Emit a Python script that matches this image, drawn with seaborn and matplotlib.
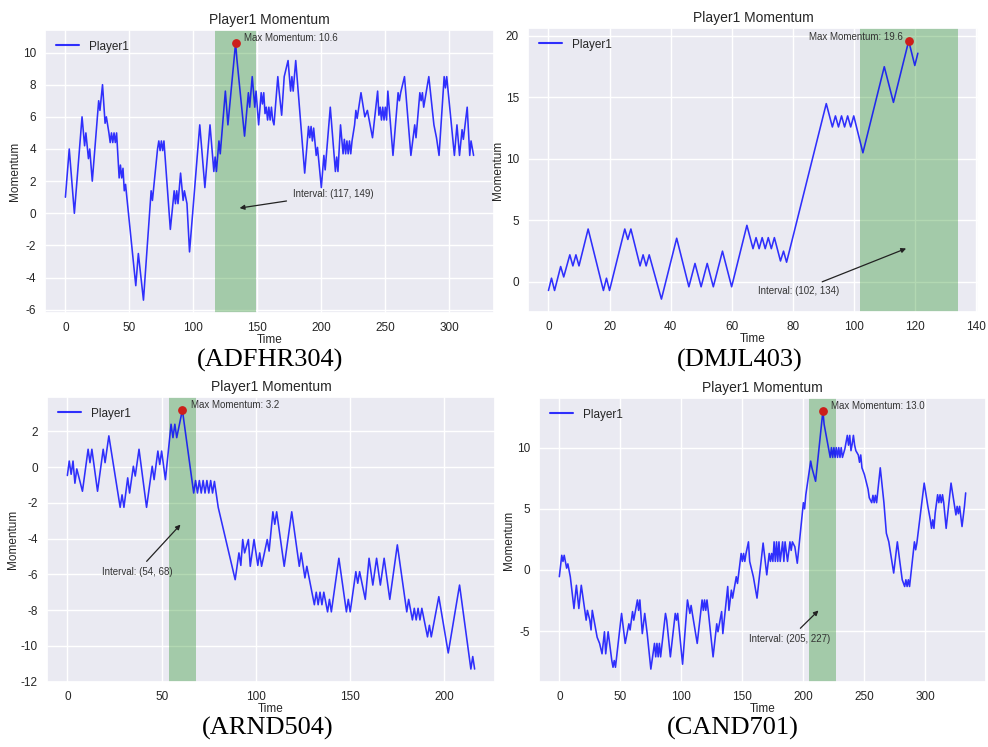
import matplotlib
matplotlib.use("Agg")
import matplotlib.pyplot as plt
import seaborn as sns

sns.set_theme(style="darkgrid")
plt.rcParams["font.family"] = ["Liberation Sans", "DejaVu Sans"]
plt.rcParams["axes.unicode_minus"] = False

# --- ADFHR304 ---
adfhr_t = [0, 3, 7, 13, 15, 16, 17, 18, 19, 21, 26, 27, 29, 31, 32, 34, 35, 36, 37, 38, 39, 40,
           42, 43, 44, 45, 46, 47, 48, 55, 57, 61, 67, 68, 72, 73, 74, 75, 76, 77, 82, 85, 86, 87,
           88, 90, 92, 93, 95, 97, 105, 109, 113, 116, 117, 118, 120, 121, 125, 127, 133, 134, 140,
           143, 144, 146, 148, 149, 151, 153, 154, 155, 156, 157, 158, 159, 160, 161, 162, 163, 166,
           167, 169, 171, 174, 176, 177, 178, 180, 187, 190, 191, 192, 193, 194, 196, 197, 200, 202,
           203, 207, 211, 212, 213, 215, 217, 218, 219, 220, 221, 222, 223, 224, 226, 227, 228, 231,
           232, 234, 236, 240, 244, 245, 246, 247, 248, 249, 250, 251, 252, 256, 260, 261, 262, 265,
           270, 273, 274, 276, 277, 278, 279, 280, 284, 288, 290, 292, 296, 297, 298, 304, 306, 308,
           310, 311, 314, 316, 317, 319]
adfhr_v = [1.0, 4.0, 0.0, 6.0, 4.2, 5.0, 4.2, 3.4, 4.0, 2.0, 7.0, 6.4, 8.0, 5.6, 6.0, 5.0, 4.4, 5.0,
           4.4, 5.0, 4.4, 5.0, 2.2, 3.0, 2.2, 2.8, 1.4, 1.8, 1.0, -4.5, -2.5, -5.4, 1.4, 0.8, 4.0, 4.5,
           3.9, 4.5, 3.9, 4.5, -1.0, 1.4, 0.6, 1.4, 0.6, 2.5, 0.8, 1.4, 0.6, -2.4, 5.5, 1.6, 5.5, 2.6,
           3.5, 2.6, 4.5, 3.7, 7.6, 5.5, 10.6, 9.6, 4.8, 7.5, 6.6, 8.5, 6.6, 7.6, 5.5, 7.5, 6.8, 7.5,
           6.2, 6.6, 5.8, 6.6, 5.8, 6.6, 5.8, 5.5, 8.5, 7.6, 6.1, 8.5, 9.5, 7.6, 8.5, 7.6, 9.5, 2.5,
           5.4, 4.7, 5.4, 4.5, 5.3, 3.6, 4.1, 1.6, 3.6, 2.7, 6.6, 2.6, 3.5, 2.6, 5.5, 3.7, 4.6, 3.7,
           4.5, 3.7, 4.5, 3.7, 4.5, 5.5, 6.4, 5.9, 7.5, 7.0, 6.0, 6.4, 4.7, 7.6, 6.1, 6.6, 5.8, 6.6,
           5.8, 6.6, 5.8, 7.6, 3.6, 7.5, 7.0, 7.5, 8.5, 3.6, 5.5, 4.7, 6.6, 7.5, 7.0, 7.5, 6.6, 8.5,
           5.5, 4.7, 3.6, 8.5, 7.8, 8.5, 3.6, 5.5, 3.6, 5.2, 4.6, 6.6, 3.6, 4.5, 3.6]

# --- DMJL403 ---
dmjl_t = [0, 1, 2, 4, 5, 7, 8, 9, 10, 13, 18, 19, 20, 25, 26, 27, 30, 31, 32, 33, 37, 42, 46, 48,
          50, 52, 54, 57, 60, 65, 67, 68, 69, 70, 71, 72, 73, 74, 76, 77, 78, 91, 93, 94, 95, 96,
          97, 98, 99, 100, 103, 110, 113, 118, 120, 121]
dmjl_v = [-0.7, 0.3, -0.7, 1.25, 0.4, 2.2, 1.3, 2.2, 1.3, 4.3, -0.7, 0.3, -0.7, 4.3, 3.45, 4.3, 1.3,
          2.2, 1.3, 2.2, -1.4, 3.55, -0.4, 1.5, -0.4, 1.5, -0.4, 2.5, -0.4, 4.6, 2.7, 3.6, 2.7, 3.6,
          2.7, 3.6, 2.7, 3.6, 1.7, 2.5, 1.6, 14.5, 12.6, 13.5, 12.6, 13.5, 12.6, 13.5, 12.6, 13.5,
          10.5, 17.5, 14.6, 19.6, 17.6, 18.6]

# --- ARND504 ---
arnd_t = [0, 1, 2, 3, 4, 5, 8, 11, 12, 13, 16, 19, 20, 22, 28, 29, 30, 32, 33, 35, 36, 38, 42, 45,
          46, 48, 49, 50, 52, 55, 56, 57, 58, 61, 67, 68, 69, 70, 71, 72, 73, 74, 75, 76, 77, 78,
          80, 89, 91, 92, 93, 94, 96, 97, 99, 101, 102, 103, 106, 107, 109, 110, 111, 115, 119, 123,
          124, 126, 127, 131, 132, 133, 134, 135, 136, 138, 139, 140, 144, 148, 149, 150, 153, 154,
          155, 158, 160, 162, 164, 166, 168, 171, 175, 180, 181, 183, 184, 185, 186, 187, 188, 191,
          192, 193, 197, 202, 208, 214, 215, 216]
arnd_v = [-0.47, 0.34, -0.4, 0.34, -0.9, -0.1, -1.35, 1.0, 0.25, 1.0, -1.35, 1.0, 0.25, 1.75, -2.25,
          -1.55, -2.25, -0.6, -1.45, 0.05, -0.5, 1.0, -2.25, 0.05, -0.7, 0.9, 0.15, 0.9, -0.7, 2.4,
          1.65, 2.4, 1.65, 3.2, -1.45, -0.75, -1.45, -0.75, -1.45, -0.75, -1.45, -0.75, -1.45, -0.75,
          -1.45, -0.8, -2.25, -6.3, -4.8, -5.5, -4.05, -4.8, -4.05, -5.55, -4.05, -5.5, -4.8, -5.55,
          -4.05, -4.7, -2.5, -3.2, -2.5, -5.55, -2.5, -5.55, -4.8, -6.2, -5.55, -7.7, -7.0, -7.7,
          -7.0, -7.7, -7.0, -8.1, -7.4, -8.1, -5.1, -8.1, -7.4, -8.1, -5.85, -6.5, -5.85, -7.4, -5.1,
          -6.6, -5.1, -6.6, -5.1, -7.4, -4.35, -8.1, -7.4, -8.55, -7.9, -8.55, -7.9, -8.55, -7.9,
          -9.5, -8.85, -9.5, -7.25, -10.4, -6.6, -11.3, -10.6, -11.3]

# --- CAND701 ---
cand_t = [0, 2, 3, 4, 6, 7, 9, 12, 14, 16, 18, 22, 23, 25, 26, 27, 31, 33, 35, 37, 38, 40, 43, 44,
          45, 46, 51, 54, 57, 58, 60, 61, 63, 64, 65, 66, 68, 70, 72, 75, 78, 79, 80, 81, 82, 83,
          87, 88, 91, 95, 96, 97, 101, 105, 107, 108, 109, 113, 117, 118, 119, 120, 121, 122, 126,
          129, 130, 133, 134, 138, 139, 141, 142, 145, 146, 149, 150, 151, 152, 153, 155, 156, 159,
          162, 167, 170, 172, 173, 174, 175, 176, 177, 178, 179, 180, 181, 183, 184, 185, 187, 189,
          190, 191, 193, 195, 200, 201, 202, 206, 207, 210, 216, 217, 222, 223, 224, 225, 226, 227,
          228, 229, 230, 231, 232, 234, 236, 237, 238, 239, 240, 241, 242, 243, 245, 246, 247, 248,
          250, 253, 254, 256, 257, 258, 259, 260, 263, 266, 268, 270, 271, 274, 277, 279, 281, 283,
          284, 285, 286, 287, 291, 292, 293, 299, 302, 304, 305, 306, 307, 308, 310, 311, 312, 313,
          314, 315, 317, 321, 325, 326, 327, 328, 330, 332, 333]
cand_v = [-0.55, 1.2, 0.7, 1.2, 0.15, 0.5, -0.55, -3.15, -1.25, -3.15, -1.25, -4.1, -3.3, -4.1,
          -4.9, -3.3, -5.5, -6.0, -6.85, -5.05, -6.85, -5.05, -7.4, -7.95, -7.4, -7.95, -3.55, -6.0,
          -4.4, -4.9, -3.4, -4.1, -3.0, -2.45, -3.3, -2.45, -5.2, -3.55, -5.2, -8.1, -6.0, -7.1,
          -6.0, -7.1, -6.0, -7.1, -3.55, -4.1, -7.1, -3.55, -4.1, -3.55, -7.7, -2.45, -3.55, -2.9,
          -3.55, -6.0, -2.45, -3.3, -2.45, -3.3, -2.45, -3.3, -7.1, -4.4, -5.05, -3.4, -5.2, -1.35,
          -3.3, -1.65, -2.3, -0.55, -1.1, 1.35, 0.7, 1.35, 0.7, 1.35, 2.3, 0.7, -0.55, -2.3, 2.2,
          -0.4, 1.35, 0.7, 1.35, 0.7, 2.3, 0.7, 2.3, 0.7, 2.3, 0.7, 2.3, 0.7, 2.3, 0.7, 2.3, 1.6,
          2.3, 1.9, 0.55, 5.5, 5.0, 6.15, 8.9, 8.35, 7.25, 13.0, 11.9, 9.2, 10.0, 9.2, 10.0, 9.2,
          10.0, 9.2, 10.0, 9.2, 10.0, 9.2, 9.9, 11.0, 10.2, 11.0, 9.75, 10.3, 11.0, 10.2, 9.75, 9.4,
          8.8, 9.4, 8.35, 7.8, 6.6, 5.9, 5.5, 6.1, 5.5, 6.1, 5.5, 8.35, 5.5, 3.0, 2.3, 1.65, -0.25,
          2.3, 0.7, -0.8, -1.35, -0.8, -1.35, -0.8, -1.35, 2.3, 1.65, 2.2, 7.1, 5.2, 4.1, 3.4, 4.1,
          3.4, 4.65, 6.15, 5.5, 6.15, 5.5, 6.15, 5.5, 3.4, 7.1, 4.5, 5.2, 4.6, 5.2, 3.55, 5.2, 6.3]

captions = ["(ADFHR304)", "(DMJL403)", "(ARND504)", "(CAND701)"]
intervals = [(117, 149), (102, 134), (54, 68), (205, 227)]
series = [(adfhr_t, adfhr_v), (dmjl_t, dmjl_v), (arnd_t, arnd_v), (cand_t, cand_v)]

# layout (pixels of a 988x747 canvas): left, right, top, bottom
W, H = 988, 747
boxes = [(45, 494, 30, 313), (528, 978, 28, 312), (47, 495, 397, 682), (539, 986, 398, 682)]
# interval annotation: arrow tip and text centre (data coords)
arrow_tips = [(134, 0.3), (118, 2.8), (61, -3.1), (214, -3.15)]
arrow_texts = [(209, 1.2), (82, -0.75), (37, -5.85), (189, -5.6)]
caption_pos = [(270, 360), (740, 360), (268, 728), (733, 728)]

fig = plt.figure(figsize=(9.88, 7.47), dpi=100)

for i in range(4):
    l, r, t, b = boxes[i]
    ax = fig.add_axes([l / W, 1 - b / H, (r - l) / W, (b - t) / H])
    times, vals = series[i]
    sns.lineplot(x=times, y=vals, ax=ax, color="blue", linewidth=1.15, alpha=0.8, label="Player1")

    start, end = intervals[i]
    ax.axvspan(start, end, color="green", alpha=0.3, lw=0)

    k = vals.index(max(vals))
    ax.scatter([times[k]], [vals[k]], color="#cc1f1a", s=28, zorder=5)
    if i == 1:
        ax.annotate(f"Max Momentum: {vals[k]:.1f}", (times[k], vals[k]), xytext=(-4, 3),
                    textcoords="offset points", ha="right", va="center", fontsize=7, color="#333333")
    else:
        ax.annotate(f"Max Momentum: {vals[k]:.1f}", (times[k], vals[k]), xytext=(6, 3.5),
                    textcoords="offset points", ha="left", va="center", fontsize=7, color="#333333")

    ax.annotate(f"Interval: ({start}, {end})", xy=arrow_tips[i], xytext=arrow_texts[i],
                ha="center", va="center", fontsize=7, color="#333333",
                arrowprops=dict(arrowstyle="-|>", color="#222222", lw=0.9, mutation_scale=7))

    ax.set_title("Player1 Momentum", fontsize=10, pad=4, color="#262626")
    ax.set_xlabel("Time", fontsize=8.5, labelpad=0)
    ax.set_ylabel("Momentum", fontsize=8.5, labelpad=1)
    ax.tick_params(labelsize=8.5, pad=0.5)
    ax.legend(loc="upper left", frameon=False, fontsize=8.5, handlelength=2.0)
    for line in ax.get_legend().get_lines():
        line.set_linewidth(1.5)

    cx, cy = caption_pos[i]
    fig.text(cx / W, 1 - cy / H, captions[i], ha="center", va="center",
             fontsize=19, family="Liberation Serif", color="black")

fig.savefig("out.png", dpi=100, facecolor="white")
